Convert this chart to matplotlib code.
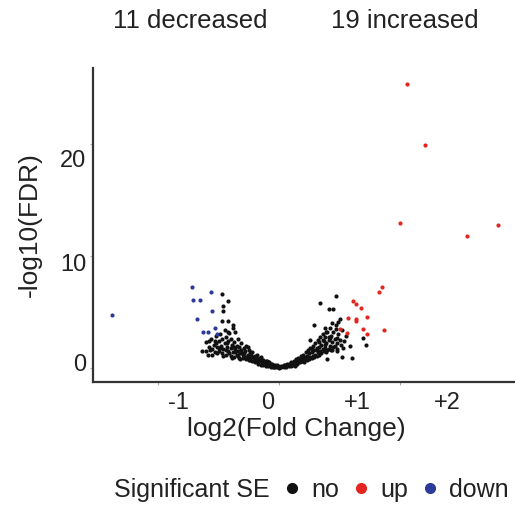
import matplotlib
matplotlib.use("Agg")
import matplotlib.pyplot as plt
from matplotlib.lines import Line2D

plt.rcParams['font.family'] = ['Liberation Sans', 'DejaVu Sans']

#----------------------DATA------------------------
# significant up (red)
up_x = [1.06, 1.21, 1.00, 1.55, 1.81, 0.85, 0.83, 0.61, 0.64, 0.68, 0.57, 0.64, 0.64,
        0.73, 0.50, 0.69, 0.87, 0.56, 0.73]
up_y = [25.4, 19.9, 13.0, 11.8, 12.8, 7.2, 6.8, 6.0, 5.7, 5.4, 4.5, 4.4, 4.2,
        4.6, 3.5, 3.5, 3.4, 3.1, 3.0]

# significant down (blue)
down_x = [-1.38, -0.72, -0.71, -0.65, -0.56, -0.55, -0.68, -0.53, -0.63, -0.59, -0.51]
down_y = [4.7, 7.2, 6.1, 6.1, 6.8, 5.1, 4.4, 3.6, 3.2, 3.2, 3.0]

# not significant (black)
no_x = [
    # left side, loose points
    -0.47, -0.42, -0.46, -0.46, -0.47, -0.42, -0.38, -0.36, -0.42, -0.58, -0.64, -0.60,
    -0.59, -0.52, -0.50,
    # left side, dense band
    -0.60, -0.58, -0.56, -0.55, -0.54, -0.53, -0.52, -0.51, -0.50, -0.50, -0.49, -0.48,
    -0.47, -0.47, -0.46, -0.45, -0.45, -0.44, -0.44, -0.43, -0.42, -0.42, -0.41, -0.40,
    -0.40, -0.40, -0.39, -0.38, -0.38, -0.37, -0.37, -0.36, -0.35, -0.35, -0.34, -0.34,
    -0.33, -0.33, -0.32, -0.31, -0.31, -0.30, -0.30, -0.29, -0.28, -0.28, -0.27, -0.27,
    -0.26, -0.25, -0.25, -0.24, -0.24, -0.23, -0.22, -0.22, -0.21, -0.20, -0.20, -0.19,
    -0.18, -0.18, -0.17, -0.17, -0.16, -0.15, -0.15, -0.14, -0.13, -0.13, -0.12, -0.11,
    -0.11, -0.10, -0.09, -0.09, -0.08, -0.07, -0.07, -0.06, -0.05, -0.05, -0.04, -0.03,
    -0.03, -0.02, -0.01, 0.00, 0.00,
    -0.57, -0.55, -0.53, -0.51, -0.49, -0.46, -0.44, -0.41, -0.39, -0.36, -0.34, -0.32,
    -0.29, -0.27, -0.25, -0.23, -0.21, -0.19, -0.16, -0.14, -0.12, -0.10, -0.08, -0.06,
    -0.04, -0.02, -0.43, -0.37, -0.31, -0.26,
    # right side, dense band
    0.01, 0.02, 0.03, 0.04, 0.05, 0.06, 0.07, 0.08, 0.09, 0.10, 0.10, 0.11, 0.12, 0.12,
    0.13, 0.14, 0.14, 0.15, 0.16, 0.16, 0.17, 0.18, 0.18, 0.19, 0.20, 0.20, 0.21, 0.22,
    0.22, 0.23, 0.24, 0.24, 0.25, 0.26, 0.26, 0.27, 0.28, 0.28, 0.29, 0.30, 0.30, 0.31,
    0.32, 0.32, 0.33, 0.34, 0.34, 0.35, 0.36, 0.36, 0.37, 0.38, 0.38, 0.39, 0.40, 0.40,
    0.41, 0.42, 0.42, 0.43, 0.44, 0.44, 0.45, 0.45, 0.46, 0.47, 0.48, 0.49, 0.50, 0.50,
    0.52, 0.53, 0.55,
    0.02, 0.04, 0.06, 0.08, 0.11, 0.13, 0.15, 0.17, 0.19, 0.21, 0.23, 0.25, 0.27, 0.29,
    0.31, 0.33, 0.35, 0.37, 0.39, 0.41, 0.43, 0.46, 0.48, 0.51, 0.27, 0.33, 0.36, 0.42,
    # right side, loose points
    0.47, 0.34, 0.41, 0.45, 0.49, 0.29, 0.38, 0.47, 0.39, 0.41, 0.48, 0.54, 0.69, 0.72,
    0.59, 0.48, 0.52, 0.60, 0.40, 0.26, 0.31, 0.44, 0.38,
]
no_y = [
    6.6, 6.0, 5.5, 5.1, 4.2, 4.2, 3.8, 3.2, 3.2, 2.4, 1.5, 1.5,
    1.2, 2.2, 1.8,
    2.3, 1.9, 2.6, 1.7, 2.1, 1.4, 2.9, 1.9, 2.4, 1.5, 3.0, 2.0,
    1.3, 2.6, 1.7, 2.2, 3.4, 1.2, 2.8, 1.9, 1.5, 2.4, 3.1, 1.1,
    1.8, 2.6, 2.1, 1.4, 3.6, 1.0, 2.3, 1.7, 1.2, 2.0, 1.5, 2.6,
    0.9, 1.9, 1.3, 1.6, 2.2, 0.9, 1.2, 1.8, 1.0, 1.5, 0.8, 2.0,
    1.2, 0.9, 1.6, 0.7, 1.3, 1.0, 0.6, 1.4, 0.8, 1.1, 0.5, 0.9,
    0.6, 1.2, 0.4, 0.8, 0.6, 1.0, 0.3, 0.5, 0.7, 0.3, 0.5, 0.2,
    0.6, 0.4, 0.2, 0.5, 0.3, 0.1, 0.4, 0.2, 0.3, 0.1, 0.2, 0.05,
    0.25, 0.1, 0.15, 0.02, 0.1,
    1.6, 1.2, 2.4, 1.3, 1.8, 1.1, 1.6, 1.3, 0.9, 1.4, 1.1, 0.8,
    1.3, 1.0, 0.7, 1.2, 1.0, 0.6, 0.9, 0.7, 0.4, 0.6, 0.5, 0.4,
    0.1, 0.3, 2.2, 1.9, 1.4, 1.9,
    0.1, 0.05, 0.2, 0.1, 0.3, 0.15, 0.4, 0.2, 0.35, 0.5, 0.2, 0.4, 0.6, 0.3,
    0.5, 0.8, 0.4, 0.6, 0.9, 0.5, 0.7, 1.1, 0.6, 0.9, 0.7, 1.2, 1.0, 0.8,
    1.4, 1.1, 0.9, 1.6, 1.3, 1.0, 1.8, 1.4, 1.1, 2.0, 1.6, 1.2, 2.2, 1.8,
    1.4, 2.5, 1.9, 1.5, 2.8, 2.1, 1.7, 3.0, 2.4, 1.8, 2.8, 2.2, 1.6, 3.2,
    2.5, 2.0, 3.6, 2.9, 2.3, 4.0, 1.9, 3.2, 2.6, 3.8, 2.2, 3.0, 4.4, 2.5,
    3.4, 1.8, 2.9,
    0.2, 0.3, 0.1, 0.4, 0.3, 0.2, 0.4, 0.5, 0.6, 0.5, 0.7, 0.8, 0.9, 1.0,
    1.1, 1.2, 1.3, 1.5, 1.4, 1.7, 1.6, 2.0, 1.7, 2.1, 1.7, 2.3, 2.5, 2.7,
    6.4, 5.8, 5.3, 5.3, 4.1, 3.8, 3.6, 3.5, 3.2, 2.8, 2.7, 2.4, 2.7, 2.1,
    2.0, 1.5, 1.0, 0.9, 0.8, 2.5, 1.6, 1.6, 2.1,
]

n_down = len(down_x)
n_up = len(up_x)

x_ticks = [-1, 0, 1]
x_tick_labels = ['-1', '0', '+1', '+2']
y_ticks = [0, 10, 20]
y_tick_labels = ['0', '10', '20']

col_no = '#111111'
col_up = '#e3261f'
col_down = '#2c3a99'
txt_col = '#222222'

#----------------------PLOT------------------------
fig = plt.figure(figsize=(5.15, 5.08), dpi=100)
ax = fig.add_axes([0.1806, 0.248, 0.8194, 0.618])

ax.scatter(no_x, no_y, s=9, color=col_no, linewidths=0, zorder=2)
ax.scatter(up_x, up_y, s=9, color=col_up, linewidths=0, zorder=3)
ax.scatter(down_x, down_y, s=9, color=col_down, linewidths=0, zorder=3)

ax.set_xlim(-1.537, 1.95)
ax.set_ylim(-1.25, 26.8)

for side in ['top', 'right']:
    ax.spines[side].set_visible(False)
for side in ['left', 'bottom']:
    ax.spines[side].set_color('#333333')
    ax.spines[side].set_linewidth(1.6)

# tick marks sit at the data positions, the labels are offset a bit like in the original
ax.set_xticks(x_ticks)
ax.set_xticklabels([])
ax.set_yticks(y_ticks)
ax.set_yticklabels([])
ax.tick_params(which='major', length=2.5, width=0.8, color='#aaaaaa')

ax.set_xticks([-0.835, -0.09, 0.645, 1.39], minor=True)
ax.set_xticklabels(x_tick_labels, minor=True)
ax.set_yticks([0.45, 9.46, 18.75], minor=True)
ax.set_yticklabels(y_tick_labels, minor=True)
ax.tick_params(which='minor', length=0, labelsize=17, labelcolor=txt_col)
ax.tick_params(axis='x', which='minor', pad=7)
ax.tick_params(axis='y', which='minor', pad=5)

ax.set_xlabel('log2(Fold Change)', fontsize=19, color=txt_col)
ax.xaxis.set_label_coords(0.481, -0.113)
ax.set_ylabel('-log10(FDR)', fontsize=19, color=txt_col)
ax.yaxis.set_label_coords(-0.122, 0.5)

fig.text(190 / 515, 1 - 21 / 508, str(n_down) + ' decreased', fontsize=18.5,
         color=txt_col, ha='center', va='center')
fig.text(405 / 515, 1 - 21 / 508, str(n_up) + ' increased', fontsize=18.5,
         color=txt_col, ha='center', va='center')

handles = [
    Line2D([], [], linestyle='none', marker=None, label='Significant SE'),
    Line2D([], [], linestyle='none', marker='o', markersize=7, color=col_no, label='no'),
    Line2D([], [], linestyle='none', marker='o', markersize=7, color=col_up, label='up'),
    Line2D([], [], linestyle='none', marker='o', markersize=7, color=col_down, label='down'),
]
leg = fig.legend(handles=handles, loc='center', bbox_to_anchor=(0.578, 0.035), ncol=4,
                 frameon=False, fontsize=18, handlelength=0.7, handletextpad=0.4,
                 columnspacing=0.55, borderpad=0)
for t in leg.get_texts():
    t.set_color(txt_col)

plt.savefig('out.png', dpi=100)
